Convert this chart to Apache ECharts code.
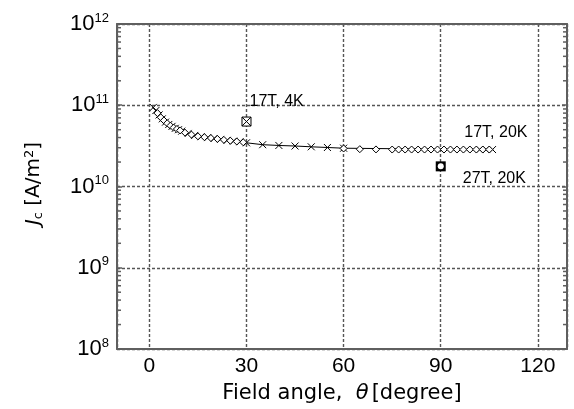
<!DOCTYPE html>
<html>
<head>
<meta charset="utf-8">
<script src="https://cdn.jsdelivr.net/npm/echarts@6/dist/echarts.min.js"></script>
<style>
  html, body { margin: 0; padding: 0; background: #fff; }
  #chart { width: 574px; height: 409px; }
</style>
</head>
<body>
<div id="chart"></div>
<script>
// 17 T, 20 K angular sweep: line with cross markers
const angles17T20Kx = [1.2, 2, 3, 4, 5, 6, 7, 8, 9, 10, 12, 14, 16, 18, 20, 22, 24, 26, 28, 30,
  35, 40, 45, 50, 55, 60, 102, 104, 106];
const jc17T20Kx = [9.4e10, 8.6e10, 7.6e10, 6.8e10, 6.2e10, 5.8e10, 5.5e10, 5.2e10, 5.0e10, 4.8e10,
  4.5e10, 4.25e10, 4.1e10, 4.0e10, 3.9e10, 3.8e10, 3.7e10, 3.62e10, 3.55e10, 3.45e10,
  3.27e10, 3.2e10, 3.15e10, 3.08e10, 3.02e10, 2.96e10, 2.85e10, 2.85e10, 2.85e10];

// 17 T, 20 K repeated sweep: open diamonds
const angles17T20Kd = [2.5, 3.5, 4.5, 5.5, 6.5, 7.5, 8.5, 9.5, 11, 13, 15, 17, 19, 21, 23, 25, 27, 29,
  60, 65, 70, 75, 77, 79, 81, 83, 85, 87, 89, 91, 93, 95, 97, 99, 101, 103, 105];
const jc17T20Kd = [8.0e10, 7.1e10, 6.5e10, 6.0e10, 5.6e10, 5.3e10, 5.1e10, 4.9e10, 4.6e10, 4.35e10,
  4.15e10, 4.05e10, 3.95e10, 3.85e10, 3.75e10, 3.66e10, 3.58e10, 3.5e10,
  2.94e10, 2.88e10, 2.86e10, 2.85e10, 2.85e10, 2.85e10, 2.85e10, 2.85e10, 2.85e10, 2.85e10,
  2.85e10, 2.85e10, 2.85e10, 2.85e10, 2.85e10, 2.85e10, 2.85e10, 2.85e10, 2.85e10];

// single points
const angle17T4K = 30, jc17T4K = 6.3e10;
const angle27T20K = 90, jc27T20K = 1.77e10;

// axis settings
const xMin = -10, xMax = 129;
const yMin = 1e8, yMax = 1e12;
// log minor ticks: mantissas 2..9 inside each decade
const minorMantissas = [2, 3, 4, 5, 6, 7, 8, 9];
const tickDecades = [1e8, 1e9, 1e10, 1e11];

const FONT = '"Liberation Sans", Arial, sans-serif';
const WIDE = '"DejaVu Sans", "Liberation Sans", sans-serif';
const frameColor = '#5f5f5f';
const gridStyle = { color: '#555', width: 1.4, type: [3, 2] };

const crossPath = 'path://M0,0L10,10M10,0L0,10';
const boxCrossPath = 'path://M0,0L10,0L10,10L0,10Z M0,0L10,10 M10,0L0,10';

function pairs(xs, ys) { return xs.map((x, i) => [x, ys[i]]); }

function noteLabel(text, pos) {
  return {
    show: true, formatter: text, position: pos,
    align: 'left', verticalAlign: 'top',
    fontSize: 16, color: '#000', fontFamily: FONT
  };
}

const minorValues = [];
tickDecades.forEach(d => minorMantissas.forEach(m => minorValues.push([m * d])));

// the label for the 17 T, 20 K sweep sits at its last diamond
const d17d = pairs(angles17T20Kd, jc17T20Kd);
const lastD = d17d.length - 1;
d17d[lastD] = { value: d17d[lastD], label: noteLabel('17T, 20K', [-21, -21]) };

const chart = echarts.init(document.getElementById('chart'));
chart.setOption({
  animation: false,
  backgroundColor: '#fff',
  grid: { left: 117, right: 7, top: 24, bottom: 59 },
  xAxis: [{
    type: 'value', min: xMin, max: xMax, splitNumber: 5,
    axisLine: { show: true, onZero: false, lineStyle: { color: frameColor, width: 2 } },
    axisTick: { show: false },
    axisLabel: { fontSize: 21, color: '#000', fontFamily: FONT, margin: 7, showMinLabel: false, showMaxLabel: false },
    splitLine: { show: true, lineStyle: gridStyle },
    name: '{n|Field angle,  }{t|θ}{n|[degree]}',
    nameLocation: 'middle', nameGap: 34,
    nameTextStyle: {
      rich: {
        n: { fontSize: 21, color: '#000', fontFamily: WIDE },
        t: { fontSize: 21, color: '#000', fontFamily: WIDE, fontStyle: 'italic', padding: [0, 3, 0, 0] }
      }
    }
  }, {
    type: 'value', position: 'top', min: xMin, max: xMax, splitNumber: 5,
    axisLine: { show: true, onZero: false, lineStyle: { color: frameColor, width: 2 } },
    axisTick: { show: false }, axisLabel: { show: false }, splitLine: { show: false }
  }],
  yAxis: [{
    type: 'log', min: yMin, max: yMax, logBase: 10,
    axisLine: { show: true, onZero: false, lineStyle: { color: frameColor, width: 2 } },
    axisTick: { show: true, inside: true, length: 5, lineStyle: { color: frameColor, width: 1.5 } },
    axisLabel: {
      margin: 8, color: '#000', fontFamily: FONT,
      formatter: v => '{b|10}{s|' + Math.round(Math.log10(v)) + '}',
      rich: {
        b: { fontSize: 22, color: '#000', fontFamily: FONT },
        s: { fontSize: 13, color: '#000', fontFamily: FONT, verticalAlign: 'top', padding: [0, 0, 12, 0] }
      }
    },
    splitLine: { show: true, lineStyle: gridStyle },
    name: '{j|J}{c|c}{n| [A/m}{s|2}{n|]}',
    nameLocation: 'middle', nameGap: 72, nameRotate: 90,
    nameTextStyle: {
      padding: [0, 0, 0, 6],
      rich: {
        j: { fontSize: 20, color: '#000', fontFamily: WIDE, fontStyle: 'italic' },
        c: { fontSize: 13, color: '#000', fontFamily: WIDE, verticalAlign: 'bottom', padding: [8, 0, 0, 0] },
        n: { fontSize: 20, color: '#000', fontFamily: WIDE },
        s: { fontSize: 13, color: '#000', fontFamily: WIDE, verticalAlign: 'top', padding: [0, 0, 9, 0] }
      }
    }
  }, {
    type: 'log', min: yMin, max: yMax, logBase: 10, position: 'right',
    axisLine: { show: true, onZero: false, lineStyle: { color: frameColor, width: 2 } },
    axisTick: { show: true, inside: true, length: 5, lineStyle: { color: frameColor, width: 1.5 } },
    axisLabel: { show: false }, splitLine: { show: false }
  }],
  series: [
    {
      // minor ticks on the left and right frame edges
      type: 'custom', data: minorValues, silent: true, clip: false, z: 1,
      renderItem: (params, api) => {
        const v = api.value(0);
        const l = api.coord([xMin, v]);
        const r = api.coord([xMax, v]);
        const st = { stroke: frameColor, lineWidth: 1.5 };
        return {
          type: 'group', children: [
            { type: 'line', shape: { x1: l[0], y1: l[1], x2: l[0] + 4, y2: l[1] }, style: st },
            { type: 'line', shape: { x1: r[0], y1: r[1], x2: r[0] - 4, y2: r[1] }, style: st }
          ]
        };
      },
      encode: { y: 0 }
    },
    {
      type: 'line', data: pairs(angles17T20Kx, jc17T20Kx), xAxisIndex: 0, yAxisIndex: 0,
      symbol: crossPath, symbolSize: 7, showAllSymbol: true,
      lineStyle: { color: '#000', width: 1 },
      itemStyle: { color: 'rgba(0,0,0,0)', borderColor: '#000', borderWidth: 1, opacity: 1 },
      z: 3
    },
    {
      type: 'scatter', data: d17d,
      symbol: 'diamond', symbolSize: [7, 7],
      itemStyle: { color: '#fff', borderColor: '#000', borderWidth: 1, opacity: 1 },
      z: 4
    },
    {
      type: 'scatter',
      data: [{ value: [angle17T4K, jc17T4K], label: noteLabel('17T, 4K', [8, -23]) }],
      symbol: boxCrossPath, symbolSize: 9,
      itemStyle: { color: '#fff', borderColor: '#000', borderWidth: 1, opacity: 1 },
      z: 5
    },
    {
      type: 'scatter',
      data: [{ value: [angle27T20K, jc27T20K], label: noteLabel('27T, 20K', [27, 9]) }],
      symbol: 'rect', symbolSize: 10,
      itemStyle: { color: '#000', opacity: 1 }, z: 5
    },
    {
      type: 'scatter', data: [[angle27T20K, jc27T20K]],
      symbol: 'circle', symbolSize: 6,
      itemStyle: { color: '#fff', opacity: 1 }, z: 6
    }
  ]
});
</script>
</body>
</html>
